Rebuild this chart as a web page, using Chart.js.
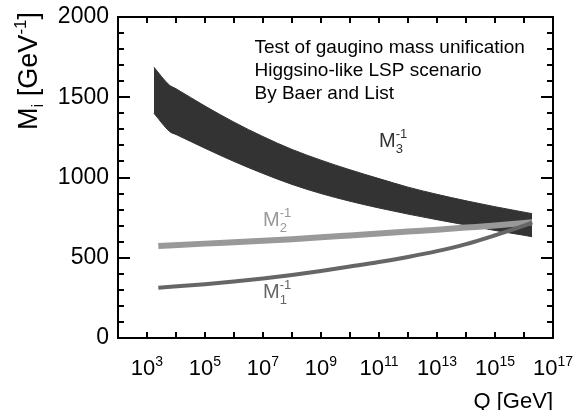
<!DOCTYPE html>
<html>
<head>
<meta charset="utf-8">
<script src="https://cdn.jsdelivr.net/npm/chart.js@4"></script>
<style>
  html, body { margin: 0; padding: 0; background: #fff; }
</style>
</head>
<body>
<canvas id="myChart" width="577" height="410"></canvas>
<script>
// log10(Q/GeV) of each sample, and the inverse mass at that scale
var m3UpperExp = [3.24, 3.77, 4, 5, 6, 7, 8, 9, 10, 11, 12, 13, 14, 15, 16, 16.28];
var m3UpperVal = [1687, 1576, 1553, 1445, 1345, 1255, 1175, 1108, 1048, 993, 940, 895, 855, 818, 784, 775];
var m3LowerExp = [3.24, 3.79, 4, 5, 6, 7, 8, 9, 10, 11, 12, 13, 14, 15, 16, 16.28];
var m3LowerVal = [1400, 1285, 1268, 1182, 1100, 1025, 957, 900, 852, 810, 772, 737, 704, 670, 640, 631];
var m2Exp = [3.39, 5, 6, 7, 8, 9, 10, 11, 12, 13, 14, 15, 16, 16.28];
var m2Val = [573, 588, 597, 606, 616, 627, 639, 651, 663, 675, 688, 701, 716, 721];
var m1Exp = [3.39, 5, 6, 7, 8, 9, 10, 11, 12, 13, 14, 15, 16, 16.28];
var m1Val = [313, 335, 352, 371, 393, 418, 445, 473, 505, 541, 585, 640, 700, 720];

var xLabelExp = [3, 5, 7, 9, 11, 13, 15, 17];
var yTicks = [0, 500, 1000, 1500, 2000];
var infoLines = ['Test of gaugino mass unification', 'Higgsino-like LSP scenario', 'By Baer and List'];
var massLabels = [
    { n: '3', exp: 11, val: 1190, color: '#333' },
    { n: '2', exp: 7, val: 698, color: '#999' },
    { n: '1', exp: 7, val: 249, color: '#666' }
];

var FONT = '"Liberation Sans", Arial, Helvetica, sans-serif';

function pts(exps, vals) {
    return exps.map(function (e, i) { return { x: Math.pow(10, e), y: vals[i] }; });
}

function massLabel(ctx, n, x, y, color) {
    ctx.fillStyle = color;
    ctx.font = '20px ' + FONT;
    ctx.fillText('M', x, y);
    var mx = x + ctx.measureText('M').width;
    ctx.font = '13px ' + FONT;
    ctx.fillText(n, mx, y + 6);
    ctx.fillText('-1', mx, y - 9);
}

const decor = {
    id: 'decor',
    afterDraw(chart) {
        const ctx = chart.ctx, a = chart.chartArea, xs = chart.scales.x, ys = chart.scales.y;
        ctx.save();
        ctx.strokeStyle = '#000';
        ctx.lineWidth = 2;

        // ticks on all four sides, pointing inwards
        ctx.beginPath();
        for (let v = 0; v <= 2000; v += 100) {
            const y = Math.round(ys.getPixelForValue(v));
            const len = v % 500 === 0 ? 12 : 6;
            ctx.moveTo(a.left, y); ctx.lineTo(a.left + len, y);
            ctx.moveTo(a.right, y); ctx.lineTo(a.right - len, y);
        }
        for (let e = 3; e <= 16; e++) {
            const x = Math.round(xs.getPixelForValue(Math.pow(10, e)));
            ctx.moveTo(x, a.bottom); ctx.lineTo(x, a.bottom - 6);
            ctx.moveTo(x, a.top); ctx.lineTo(x, a.top + 6);
        }
        ctx.stroke();
        ctx.strokeRect(a.left, a.top, a.right - a.left, a.bottom - a.top);

        ctx.fillStyle = '#000';

        // y labels
        ctx.font = '23px ' + FONT;
        ctx.textAlign = 'right';
        ctx.textBaseline = 'middle';
        yTicks.forEach(function (v) {
            ctx.fillText(String(v), a.left - 9, ys.getPixelForValue(v));
        });
        ctx.textAlign = 'left';
        ctx.textBaseline = 'alphabetic';

        // x labels 10^n
        xLabelExp.forEach(function (e) {
            const x = xs.getPixelForValue(Math.pow(10, e));
            ctx.font = '22px ' + FONT;
            const w1 = ctx.measureText('10').width;
            ctx.font = '14px ' + FONT;
            const w2 = ctx.measureText(String(e)).width;
            const x0 = x - (w1 + w2) / 2;
            ctx.font = '22px ' + FONT;
            ctx.fillText('10', x0, a.bottom + 37);
            ctx.font = '14px ' + FONT;
            ctx.fillText(String(e), x0 + w1, a.bottom + 28);
        });

        // x title
        ctx.font = '22px ' + FONT;
        ctx.textAlign = 'right';
        ctx.fillText('Q [GeV]', a.right, 408);
        ctx.textAlign = 'left';

        // y title, rotated, ending at the top
        ctx.save();
        ctx.translate(37, 12);
        ctx.rotate(-Math.PI / 2);
        const parts = [['M', 27, 0], ['i', 17, 6], [' [GeV', 27, 0], ['-1', 17, -11], [']', 27, 0]];
        let W = 0;
        parts.forEach(function (p) { ctx.font = p[1] + 'px ' + FONT; W += ctx.measureText(p[0]).width; });
        let px = -W;
        parts.forEach(function (p) {
            ctx.font = p[1] + 'px ' + FONT;
            ctx.fillText(p[0], px, p[2]);
            px += ctx.measureText(p[0]).width;
        });
        ctx.restore();

        // info text
        ctx.font = '19px ' + FONT;
        infoLines.forEach(function (t, i) {
            ctx.fillText(t, a.left + 136.5, a.top + 36 + i * 23);
        });

        // curve names
        massLabels.forEach(function (m) {
            massLabel(ctx, m.n, xs.getPixelForValue(Math.pow(10, m.exp)), ys.getPixelForValue(m.val), m.color);
        });
        ctx.restore();
    }
};

const config = {
    type: 'line',
    data: {
        datasets: [
            { label: 'M1', data: pts(m1Exp, m1Val), borderColor: '#666', borderWidth: 4, fill: false },
            { label: 'M2', data: pts(m2Exp, m2Val), borderColor: '#999', borderWidth: 6, fill: false },
            { label: 'M3 upper', data: pts(m3UpperExp, m3UpperVal), borderColor: '#333', borderWidth: 1, fill: false },
            { label: 'M3 lower', data: pts(m3LowerExp, m3LowerVal), borderColor: '#333', backgroundColor: '#333', borderWidth: 1, fill: '-1' }
        ]
    },
    options: {
        responsive: false,
        animation: false,
        elements: {
            point: { radius: 0 },
            line: { cubicInterpolationMode: 'monotone', borderCapStyle: 'butt' }
        },
        layout: { padding: { top: 17, right: 24, left: 0, bottom: 0 } },
        plugins: { legend: { display: false }, tooltip: { enabled: false } },
        scales: {
            x: {
                type: 'logarithmic', min: 1e2, max: 1e17,
                ticks: { display: false },
                grid: { display: false },
                border: { display: false },
                afterFit: function (s) { s.height = 72; }
            },
            y: {
                min: 0, max: 2000,
                ticks: { display: false },
                grid: { display: false, drawTicks: false },
                border: { display: false },
                afterFit: function (s) { s.width = 118; }
            }
        }
    },
    plugins: [decor]
};

const myChart = new Chart(document.getElementById('myChart'), config);
</script>
</body>
</html>
